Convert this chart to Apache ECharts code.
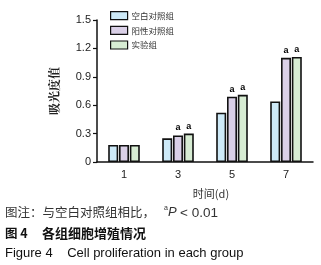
<!DOCTYPE html>
<html><head><meta charset="utf-8">
<script src="https://cdn.jsdelivr.net/npm/echarts@6/dist/echarts.min.js"></script>
<style>html,body{margin:0;padding:0;background:#fff}#c{width:321px;height:265px}</style>
</head><body><div id="c"></div>
<script>
const categories = ['1','3','5','7'];
const seriesNames = ['空白对照组','阳性对照组','实验组'];
const blank = [0.18, 0.25, 0.52, 0.64];
const positive = [0.18, 0.28, 0.69, 1.10];
const experiment = [0.18, 0.30, 0.71, 1.11];
const sigPositive = ['', 'a', 'a', 'a'];
const sigExperiment = ['', 'a', 'a', 'a'];
const yTicks = [0, 0.3, 0.6, 0.9, 1.2, 1.5];
const colors = ['#cde9f7', '#dad0e7', '#d7ecd3'];

const chart = echarts.init(document.getElementById('c'));
function mk(name, data, sig, i){
  return {
    name: name, type: 'bar', data: data, barWidth: 10, barGap: '8%',
    itemStyle: {color: colors[i], borderColor: '#111', borderWidth: 1.6},
    label: {show: true, position: 'top', distance: 3, color: '#000', fontSize: 9, fontWeight: 'bold',
      fontFamily: 'Liberation Sans',
      formatter: p => sig ? sig[p.dataIndex] : ''}
  };
}
chart.setOption({
  animation: false,
  legend: {
    orient: 'vertical', left: 105, top: 6, itemWidth: 17, itemHeight: 8, itemGap: 5.5,
    icon: 'rect',
    textStyle: {fontSize: 8.5, color: '#333', fontFamily: 'Noto Sans CJK SC', padding: [0,0,0,-1]},
    data: seriesNames,
    itemStyle: {borderColor: '#111', borderWidth: 1.2}
  },
  grid: {left: 97, right: 8, top: 20, bottom: 103},
  xAxis: {
    type: 'category', data: categories,
    name: '时间(d)', nameLocation: 'middle', nameGap: 26,
    nameTextStyle: {fontSize: 11, color: '#333', fontFamily: 'Noto Sans CJK SC', padding: [0,0,0,12]},
    axisLine: {lineStyle: {color: '#111', width: 1.5}},
    axisTick: {alignWithLabel: true, length: 4, lineStyle: {color: '#111', width: 1.2}},
    axisLabel: {fontSize: 11, color: '#222', margin: 7, fontFamily: 'Liberation Sans'}
  },
  yAxis: {
    type: 'value', min: 0, max: 1.5, interval: 0.3,
    name: '吸光度值', nameLocation: 'middle', nameGap: 37, nameRotate: 90,
    nameTextStyle: {fontSize: 12, color: '#222', fontFamily: 'Noto Serif CJK SC, Noto Sans CJK SC', fontWeight: 'bold'},
    axisLine: {show: true, lineStyle: {color: '#111', width: 1.5}},
    axisTick: {show: true, length: 4, lineStyle: {color: '#111', width: 1.2}},
    splitLine: {show: false},
    axisLabel: {fontSize: 11, color: '#222', margin: 6, fontFamily: 'Liberation Sans',
      formatter: v => yTicks.includes(Math.round(v*10)/10) ? String(Math.round(v*10)/10) : ''}
  },
  series: [mk(seriesNames[0], blank, null, 0), mk(seriesNames[1], positive, sigPositive, 1), mk(seriesNames[2], experiment, sigExperiment, 2)],
  graphic: [
    {type: 'text', left: 5, top: 206, style: {text: '图注：与空白对照组相比，', fontSize: 12.5, fill: '#333', fontFamily: 'Noto Sans CJK SC'}},
    {type: 'text', left: 164, top: 205, style: {text: 'a', fontSize: 7, fill: '#333', fontFamily: 'Liberation Sans'}},
    {type: 'text', left: 168, top: 206, style: {text: 'P', fontSize: 13, fontStyle: 'italic', fill: '#333', fontFamily: 'Liberation Sans'}},
    {type: 'text', left: 180, top: 206, style: {text: '< 0.01', fontSize: 13.5, fill: '#333', fontFamily: 'Liberation Sans'}},
    {type: 'text', left: 5, top: 227, style: {text: '图 4', fontSize: 12.5, fontWeight: 'bold', fill: '#111', fontFamily: 'Noto Sans CJK SC'}},
    {type: 'text', left: 42, top: 227, style: {text: '各组细胞增殖情况', fontSize: 13, fontWeight: 'bold', fill: '#111', fontFamily: 'Noto Sans CJK SC'}},
    {type: 'text', left: 5, top: 247, style: {text: 'Figure 4    Cell proliferation in each group', fontSize: 13, fill: '#111', fontFamily: 'Liberation Sans'}}
  ]
});
</script></body></html>
